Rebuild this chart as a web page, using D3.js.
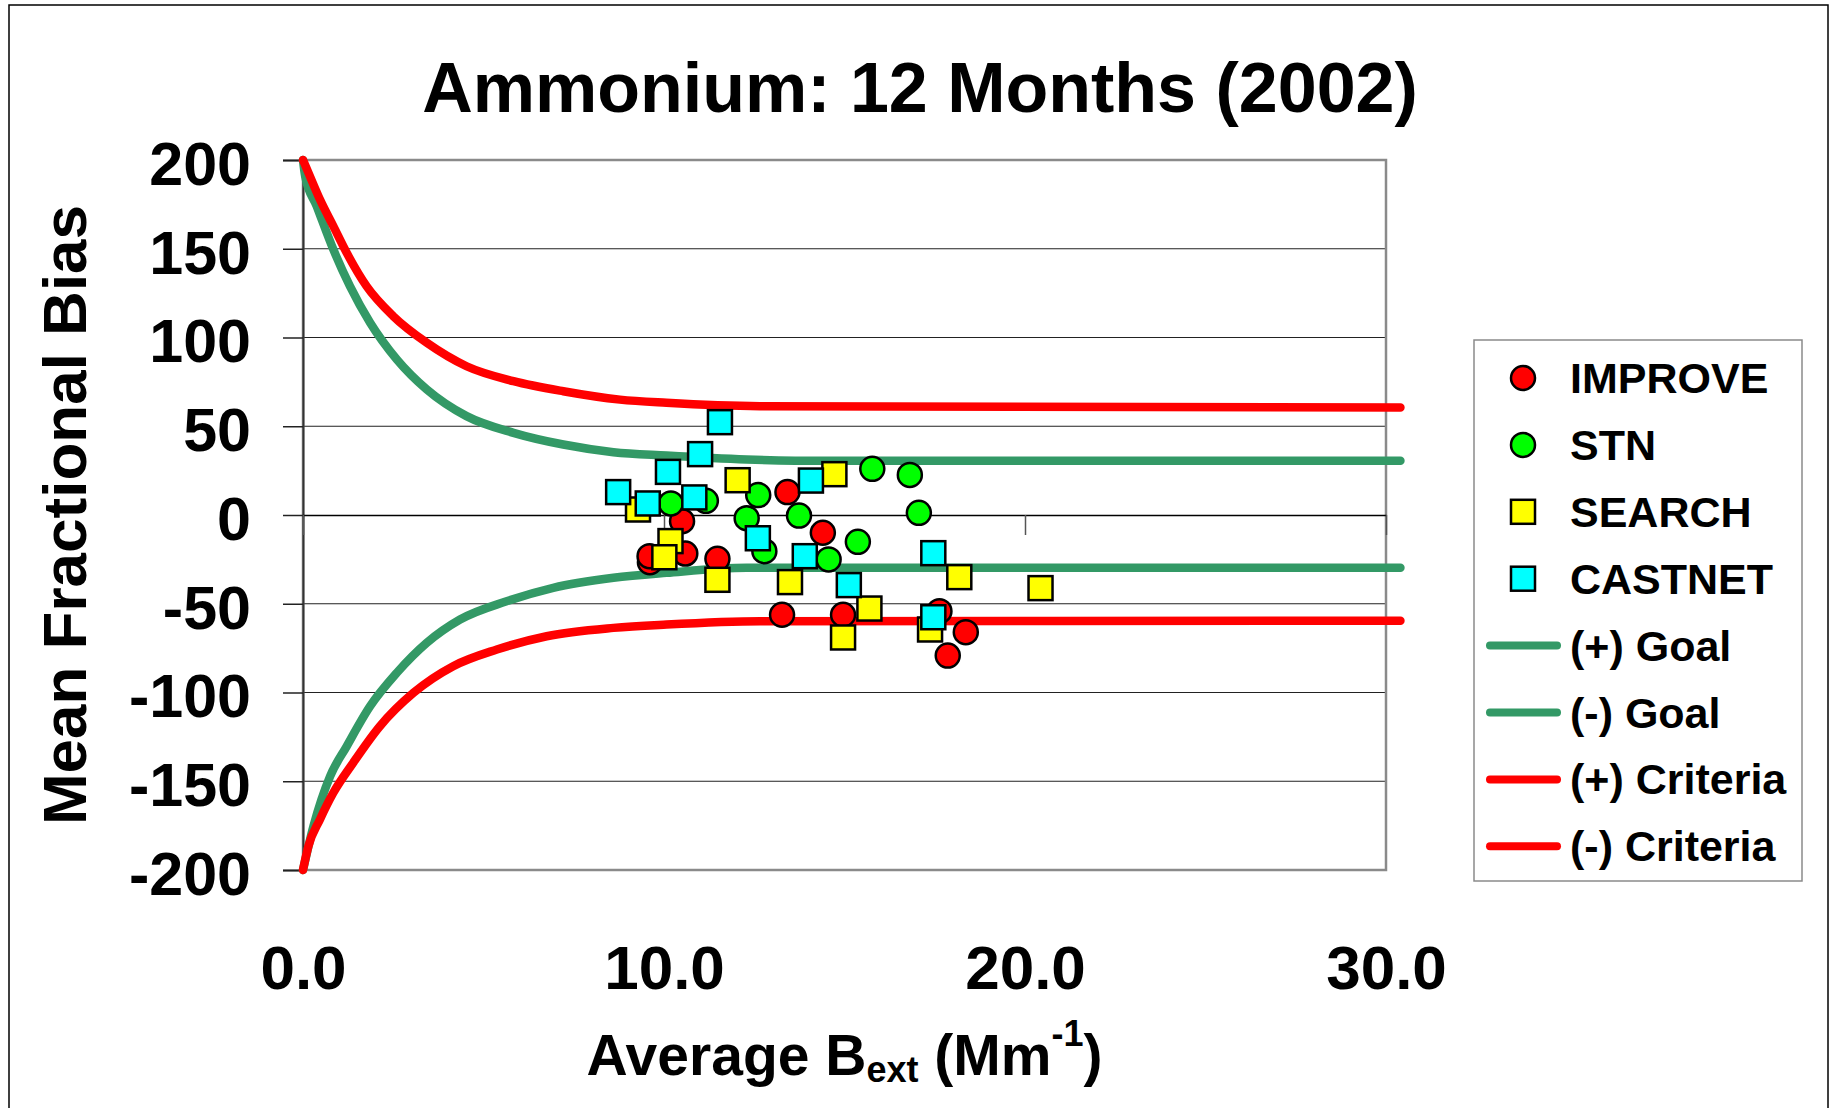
<!DOCTYPE html>
<meta charset="utf-8">
<script src="https://d3js.org/d3.v7.min.js"></script>
<style>
  body { margin: 0; background: #fff; }
  text { font-family: "Liberation Sans", Arial, sans-serif; font-weight: bold; fill: #000; }
</style>
<body>
<script>
// Monitoring network points: average Bext (x) vs mean fractional bias (y)
const improveX = [10.5, 9.61, 9.6, 10.59, 11.48, 13.42, 14.4, 13.27, 14.96, 17.63, 18.36, 17.86];
const improveY = [-3.5, -26.6, -23.2, -21.7, -24.7, 12.9, -10, -56.2, -56.2, -54.2, -66, -79.2];

const stnX = [10.19, 11.16, 12.61, 12.29, 12.78, 13.74, 14.56, 15.37, 15.77, 16.81, 17.06];
const stnY = [6.5, 8, 11.2, -1.8, -20.4, -0.3, -25, -15.1, 26, 22.6, 1.2];

const searchX = [9.28, 10.18, 10.01, 12.04, 11.48, 13.49, 14.72, 15.69, 14.96, 17.37, 18.18, 20.43];
const searchY = [3.1, -14.7, -23.8, 19.6, -36.5, -37.8, 23, -52.7, -69, -64.5, -35, -41.2];

const castnetX = [11.55, 11.0, 10.11, 8.73, 9.55, 10.84, 14.07, 12.6, 13.9, 15.12, 17.46, 17.46];
const castnetY = [52.3, 34.3, 24.3, 12.9, 6.5, 9.9, 19.4, -13.1, -23.2, -39.5, -21.5, -57.6];

// Goal / criteria curves
const goalPosX = [0, 0.06, 0.38, 0.84, 1.3, 1.86, 2.6, 3.43, 4.53, 5.83, 7.21, 8.6, 10.07, 12.29, 14.5, 30.4];
const goalPosY = [200, 190.9, 174, 149.6, 128.9, 108.3, 87.6, 70.7, 55.7, 46.3, 39.7, 35.4, 33.5, 31.3, 30.5, 30.5];
const goalNegX = [0, 0.29, 0.75, 1.21, 1.86, 2.6, 3.43, 4.35, 5.64, 6.93, 8.6, 10.07, 12.29, 14.5, 30.4];
const goalNegY = [-200, -175.3, -147.2, -130.3, -107.7, -88.9, -72, -58.9, -48.6, -41, -35.4, -32.6, -29.7, -29.7, -29.7];
const critPosX = [0, 0.19, 0.47, 0.84, 1.21, 1.76, 2.5, 3.43, 4.53, 5.83, 7.21, 8.78, 10.07, 12.66, 30.4];
const critPosY = [200, 190.9, 177.7, 162.7, 147.7, 128.9, 112, 97, 83.8, 75.4, 69.7, 65, 63.2, 61.3, 60.5];
const critNegX = [0, 0.15, 0.47, 0.84, 1.39, 2.13, 3.06, 4.16, 5.37, 6.75, 8.6, 10.07, 12.66, 30.4];
const critNegY = [-200, -186.6, -171.5, -156.5, -139.6, -119, -100.2, -85.2, -75.8, -68.3, -63.6, -61.7, -59.8, -59.6];

const yTicks = [200, 150, 100, 50, 0, -50, -100, -150, -200];
const xTicks = [0, 10, 20, 30];

const W = 1837, H = 1108;
const svg = d3.select("body").append("svg")
    .attr("width", W)
    .attr("height", H);

svg.append("rect").attr("width", W).attr("height", H).attr("fill", "#fff");
// outer frame
svg.append("rect")
    .attr("x", 9).attr("y", 5).attr("width", 1819).attr("height", 1200)
    .attr("fill", "none").attr("stroke", "#000").attr("stroke-width", 1.5);

const x = d3.scaleLinear().domain([0, 30]).range([303, 1386]);
const y = d3.scaleLinear().domain([-200, 200]).range([870, 160]);

// gridlines
svg.append("g")
  .selectAll("line")
  .data(yTicks.filter(d => Math.abs(d) !== 200 && d !== 0))
  .join("line")
    .attr("x1", x(0)).attr("x2", x(30))
    .attr("y1", d => y(d)).attr("y2", d => y(d))
    .attr("stroke", "#222").attr("stroke-width", 1.2);

// plot border
svg.append("rect")
    .attr("x", x(0)).attr("y", y(200))
    .attr("width", x(30) - x(0)).attr("height", y(-200) - y(200))
    .attr("fill", "none").attr("stroke", "#8a8a8a").attr("stroke-width", 2.5);

// y axis
const yAxis = svg.append("g")
    .attr("transform", `translate(${x(0)},0)`)
    .call(d3.axisLeft(y).tickValues(yTicks).tickSize(20).tickPadding(32).tickFormat(d => String(d)));
yAxis.select(".domain").attr("stroke", "#333").attr("stroke-width", 2);
yAxis.selectAll(".tick line").attr("stroke", "#222").attr("stroke-width", 1.5);
yAxis.selectAll(".tick text")
    .attr("dy", "0.4em")
    .style("font-size", "61px")
    .style("font-family", "'Liberation Sans', Arial, sans-serif")
    .style("font-weight", "bold")
    .attr("fill", "#000");

// x axis crosses at 0, labels sit low
const xAxis = svg.append("g")
    .attr("transform", `translate(0,${y(0)})`)
    .call(d3.axisBottom(x).tickValues(xTicks).tickSizeInner(20).tickSizeOuter(0)
        .tickPadding(y(-200) - y(0) + 75 - 20).tickFormat(d3.format(".1f")));
xAxis.select(".domain").attr("stroke", "#000").attr("stroke-width", 1.5);
xAxis.selectAll(".tick line").attr("stroke", "#555").attr("stroke-width", 1.5);
xAxis.selectAll(".tick text")
    .style("font-size", "62px")
    .style("font-family", "'Liberation Sans', Arial, sans-serif")
    .style("font-weight", "bold")
    .attr("fill", "#000");

// goal and criteria curves
const line = d3.line().x(d => x(d[0])).y(d => y(d[1])).curve(d3.curveMonotoneX);
const curves = [
  {xs: goalPosX, ys: goalPosY, color: "#339966"},
  {xs: goalNegX, ys: goalNegY, color: "#339966"},
  {xs: critPosX, ys: critPosY, color: "#FF0000"},
  {xs: critNegX, ys: critNegY, color: "#FF0000"}
];
curves.forEach(c => {
  svg.append("path")
      .datum(d3.zip(c.xs, c.ys))
      .attr("d", line)
      .attr("fill", "none")
      .attr("stroke", c.color)
      .attr("stroke-width", 8.5)
      .attr("stroke-linecap", "round")
      .attr("stroke-linejoin", "round");
});

// markers
const series = [
  {name: "IMPROVE", xs: improveX, ys: improveY, color: "#FF0000", shape: "circle"},
  {name: "STN", xs: stnX, ys: stnY, color: "#00FF00", shape: "circle"},
  {name: "SEARCH", xs: searchX, ys: searchY, color: "#FFFF00", shape: "square"},
  {name: "CASTNET", xs: castnetX, ys: castnetY, color: "#00FFFF", shape: "square"}
];

function drawMarker(g, shape, cx, cy, color) {
  if (shape === "circle") {
    g.append("circle").attr("cx", cx).attr("cy", cy).attr("r", 12)
        .attr("fill", color).attr("stroke", "#000").attr("stroke-width", 2.5);
  } else {
    g.append("rect").attr("x", cx - 12).attr("y", cy - 12).attr("width", 24).attr("height", 24)
        .attr("fill", color).attr("stroke", "#000").attr("stroke-width", 2.5);
  }
}

series.forEach(s => {
  const g = svg.append("g");
  d3.zip(s.xs, s.ys).forEach(p => drawMarker(g, s.shape, x(p[0]), y(p[1]), s.color));
});

// title
svg.append("text")
    .attr("x", 920).attr("y", 112)
    .attr("text-anchor", "middle")
    .style("font-size", "70px")
    .text("Ammonium: 12 Months (2002)");

// axis titles
const xt = svg.append("text")
    .attr("x", (x(0) + x(30)) / 2).attr("y", 1075)
    .attr("text-anchor", "middle")
    .style("font-size", "57px");
xt.append("tspan").text("Average B");
xt.append("tspan").attr("dy", 7).style("font-size", "36px").text("ext");
xt.append("tspan").attr("dy", -7).text(" (Mm");
xt.append("tspan").attr("dy", -29).style("font-size", "36px").text("-1");
xt.append("tspan").attr("dy", 29).text(")");

svg.append("text")
    .attr("transform", `translate(86,${(y(200) + y(-200)) / 2}) rotate(-90)`)
    .attr("text-anchor", "middle")
    .style("font-size", "62px")
    .text("Mean Fractional Bias");

// legend
const legend = svg.append("g");
legend.append("rect")
    .attr("x", 1474).attr("y", 340).attr("width", 328).attr("height", 541)
    .attr("fill", "#fff").attr("stroke", "#8a8a8a").attr("stroke-width", 1.5);

const legendItems = [
  ...series.map(s => ({name: s.name, color: s.color, shape: s.shape})),
  {name: "(+) Goal", color: "#339966", shape: "line"},
  {name: "(-) Goal", color: "#339966", shape: "line"},
  {name: "(+) Criteria", color: "#FF0000", shape: "line"},
  {name: "(-) Criteria", color: "#FF0000", shape: "line"}
];

legendItems.forEach((d, i) => {
  const cy = 378 + i * 66.9;
  if (d.shape === "line") {
    legend.append("line")
        .attr("x1", 1490).attr("x2", 1557).attr("y1", cy).attr("y2", cy)
        .attr("stroke", d.color).attr("stroke-width", 8).attr("stroke-linecap", "round");
  } else {
    drawMarker(legend, d.shape, 1523, cy, d.color);
  }
  legend.append("text")
      .attr("x", 1570).attr("y", cy + 15)
      .style("font-size", "43px")
      .text(d.name);
});
</script>
</body>
</html>
